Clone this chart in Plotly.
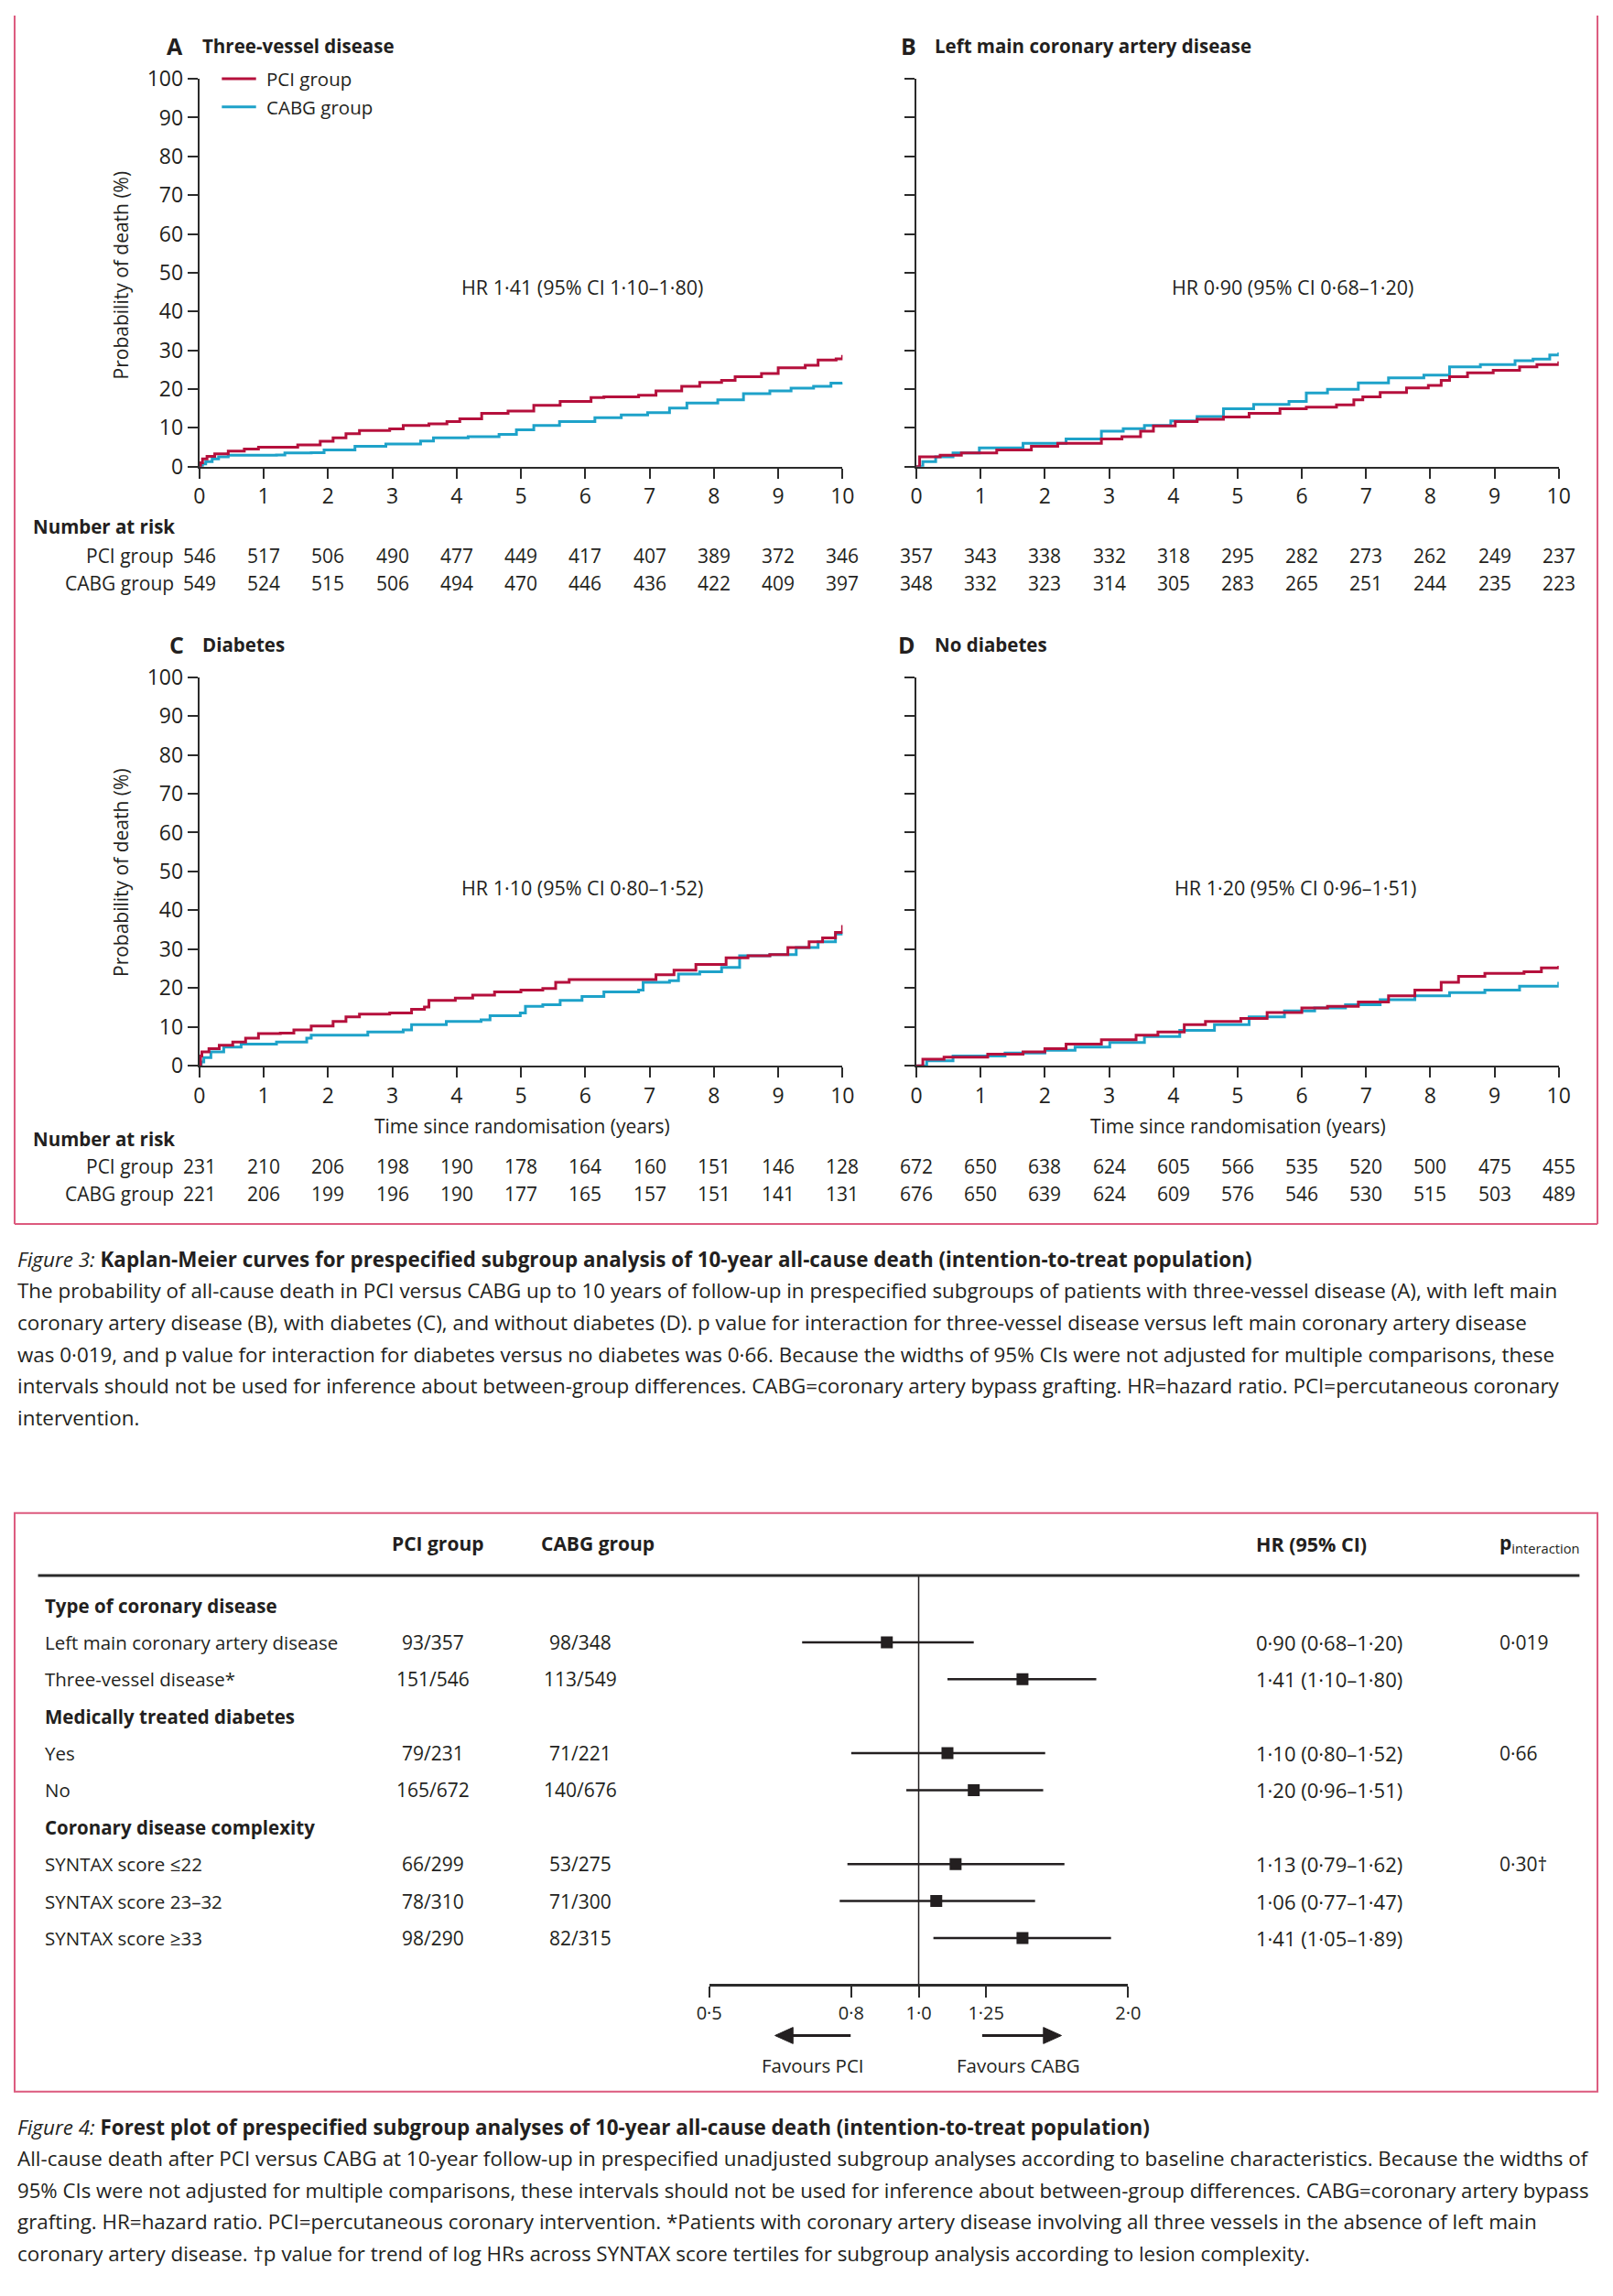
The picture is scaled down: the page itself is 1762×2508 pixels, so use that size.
import math
import plotly.graph_objects as go

W, H = 1762, 2508
def X(px): return px / W
def Y(py): return 1 - py / H

TEXT = '#231f20'
AXIS = '#2b2b2b'
PCI_C = '#b5103c'
CABG_C = '#1ea2c9'
BORDER = '#dc5a7e'
FONT = 'Open Sans'

# ---------------- Kaplan-Meier data ----------------
years = [0, 1, 2, 3, 4, 5, 6, 7, 8, 9, 10]

A_pci_t = [0, 0.02, 0.05, 0.12, 0.24, 0.45, 0.7, 0.92, 1.53, 1.88, 2.08, 2.28, 2.49, 2.96, 3.17, 3.57, 3.85, 4.05, 4.39, 4.8, 5.2, 5.61, 6.09, 6.29, 6.83, 7.1, 7.5, 7.78, 8.12, 8.33, 8.74, 9.0, 9.42, 9.62, 9.9, 10.0]
A_pci_v = [0, 1.0, 2.0, 2.6, 3.3, 4.0, 4.5, 5.0, 5.6, 6.5, 7.4, 8.5, 9.3, 9.7, 10.6, 11.0, 11.6, 12.3, 13.7, 14.3, 15.8, 16.8, 17.8, 18.0, 18.4, 19.5, 20.7, 21.7, 22.2, 23.2, 24.0, 25.5, 26.1, 27.5, 27.8, 28.8]
A_cabg_t = [0, 0.05, 0.1, 0.2, 0.3, 0.45, 1.2, 1.33, 1.74, 1.94, 2.42, 2.9, 3.44, 3.64, 4.18, 4.66, 4.93, 5.2, 5.6, 6.15, 6.56, 6.97, 7.31, 7.58, 8.06, 8.46, 8.87, 9.2, 9.55, 9.82, 10.0]
A_cabg_v = [0, 0.7, 1.3, 2.0, 2.5, 2.9, 3.0, 3.5, 3.6, 4.3, 5.2, 5.8, 6.6, 7.4, 7.7, 8.3, 9.5, 10.6, 11.6, 12.6, 13.3, 13.9, 15.1, 16.4, 17.2, 18.8, 19.5, 20.2, 20.7, 21.5, 21.6]

B_pci_t = [0, 0.05, 0.37, 0.7, 1.25, 1.79, 2.2, 2.88, 3.2, 3.49, 3.69, 4.03, 4.37, 4.78, 5.18, 5.66, 6.07, 6.54, 6.81, 6.95, 7.22, 7.63, 7.97, 8.17, 8.3, 8.58, 8.98, 9.39, 9.66, 10.0]
B_pci_v = [0, 2.5, 2.9, 3.5, 4.3, 5.2, 6.0, 7.1, 7.7, 9.1, 10.5, 11.6, 12.2, 12.8, 13.7, 14.9, 15.3, 15.9, 17.2, 18.0, 19.1, 20.3, 20.9, 22.2, 23.2, 24.2, 24.8, 25.7, 26.3, 27.1]
B_cabg_t = [0, 0.1, 0.3, 0.57, 0.98, 1.66, 2.33, 2.88, 3.22, 3.55, 3.96, 4.37, 4.78, 5.25, 5.8, 6.07, 6.4, 6.88, 7.35, 7.9, 8.3, 8.78, 9.32, 9.6, 9.86, 10.0]
B_cabg_v = [0, 1.3, 2.5, 3.5, 4.8, 6.0, 7.1, 9.1, 9.8, 10.6, 11.8, 12.9, 14.9, 16.0, 16.8, 19.0, 19.9, 21.6, 22.9, 23.6, 25.7, 26.3, 27.3, 27.7, 28.8, 29.4]

C_pci_t = [0, 0.02, 0.04, 0.15, 0.31, 0.52, 0.72, 0.92, 1.26, 1.47, 1.74, 2.08, 2.28, 2.49, 2.96, 3.3, 3.5, 3.57, 3.98, 4.25, 4.59, 5.0, 5.34, 5.54, 5.75, 6.83, 7.1, 7.38, 7.72, 8.19, 8.53, 8.87, 9.15, 9.48, 9.69, 9.89, 10.0]
C_pci_v = [0, 2.5, 3.6, 4.4, 5.3, 6.1, 7.1, 8.3, 8.4, 9.2, 10.2, 11.4, 12.6, 13.3, 13.6, 14.5, 15.1, 16.8, 17.4, 18.2, 19.0, 19.5, 19.9, 21.5, 22.2, 22.2, 23.4, 24.6, 26.1, 27.8, 28.3, 28.6, 30.4, 31.9, 32.9, 34.3, 36.2]
C_cabg_t = [0, 0.03, 0.07, 0.18, 0.38, 0.65, 1.2, 1.67, 1.74, 2.62, 3.17, 3.3, 3.84, 4.38, 4.52, 4.99, 5.07, 5.34, 5.61, 5.95, 6.29, 6.83, 6.9, 7.31, 7.45, 7.78, 8.12, 8.4, 8.87, 9.28, 9.62, 9.89, 10.0]
C_cabg_v = [0, 1.0, 2.1, 3.6, 4.8, 5.6, 6.1, 7.1, 7.9, 8.7, 9.2, 10.6, 11.4, 11.8, 12.9, 13.6, 15.3, 15.7, 16.8, 17.8, 19.0, 19.5, 21.5, 21.9, 23.6, 24.2, 25.3, 28.3, 28.6, 30.4, 31.9, 33.9, 34.5]

D_pci_t = [0, 0.1, 0.43, 1.11, 1.66, 2.0, 2.33, 2.88, 3.42, 3.76, 4.17, 4.5, 5.05, 5.46, 6.0, 6.4, 6.88, 7.35, 7.76, 8.17, 8.44, 8.85, 9.46, 9.73, 10.0]
D_pci_v = [0, 1.7, 2.2, 3.0, 3.6, 4.4, 5.6, 6.7, 7.9, 8.7, 10.6, 11.4, 12.2, 13.7, 14.9, 15.3, 16.4, 18.0, 19.5, 21.5, 23.0, 23.8, 24.2, 25.2, 25.7]
D_cabg_t = [0, 0.16, 0.57, 1.38, 2.0, 2.47, 3.01, 3.55, 4.1, 4.64, 5.18, 5.73, 6.2, 6.68, 7.22, 7.76, 8.3, 8.85, 9.39, 10.0]
D_cabg_v = [0, 1.3, 2.5, 3.3, 4.0, 4.8, 6.0, 7.5, 9.1, 10.6, 12.6, 14.1, 14.9, 15.7, 17.0, 18.0, 18.8, 19.5, 20.5, 21.6]

# Number at risk
A_pci_risk = [546, 517, 506, 490, 477, 449, 417, 407, 389, 372, 346]
A_cabg_risk = [549, 524, 515, 506, 494, 470, 446, 436, 422, 409, 397]
B_pci_risk = [357, 343, 338, 332, 318, 295, 282, 273, 262, 249, 237]
B_cabg_risk = [348, 332, 323, 314, 305, 283, 265, 251, 244, 235, 223]
C_pci_risk = [231, 210, 206, 198, 190, 178, 164, 160, 151, 146, 128]
C_cabg_risk = [221, 206, 199, 196, 190, 177, 165, 157, 151, 141, 131]
D_pci_risk = [672, 650, 638, 624, 605, 566, 535, 520, 500, 475, 455]
D_cabg_risk = [676, 650, 639, 624, 609, 576, 546, 530, 515, 503, 489]

panel_letters = ['A', 'B', 'C', 'D']
panel_titles = ['Three-vessel disease', 'Left main coronary artery disease', 'Diabetes', 'No diabetes']
panel_hr = ['HR 1·41 (95% CI 1·10–1·80)', 'HR 0·90 (95% CI 0·68–1·20)',
            'HR 1·10 (95% CI 0·80–1·52)', 'HR 1·20 (95% CI 0·96–1·51)']

# ---------------- Forest plot data ----------------
forest_labels = ['Type of coronary disease', 'Left main coronary artery disease', 'Three-vessel disease*',
                 'Medically treated diabetes', 'Yes', 'No',
                 'Coronary disease complexity', 'SYNTAX score ≤22', 'SYNTAX score 23–32', 'SYNTAX score ≥33']
forest_is_header = [True, False, False, True, False, False, True, False, False, False]
forest_pci = ['', '93/357', '151/546', '', '79/231', '165/672', '', '66/299', '78/310', '98/290']
forest_cabg = ['', '98/348', '113/549', '', '71/221', '140/676', '', '53/275', '71/300', '82/315']
forest_hr = [None, 0.90, 1.41, None, 1.10, 1.20, None, 1.13, 1.06, 1.41]
forest_lo = [None, 0.68, 1.10, None, 0.80, 0.96, None, 0.79, 0.77, 1.05]
forest_hi = [None, 1.20, 1.80, None, 1.52, 1.51, None, 1.62, 1.47, 1.89]
forest_p = ['', '0·019', '', '', '0·66', '', '', '0·30†', '', '']
forest_ticks = [0.5, 0.8, 1.0, 1.25, 2.0]
forest_ticktext = ['0·5', '0·8', '1·0', '1·25', '2·0']

caption3_title = '<i>Figure 3:</i> <b>Kaplan-Meier curves for prespecified subgroup analysis of 10-year all-cause death (intention-to-treat population)</b>'
caption3_lines = [
    'The probability of all-cause death in PCI versus CABG up to 10 years of follow-up in prespecified subgroups of patients with three-vessel disease (A), with left main',
    'coronary artery disease (B), with diabetes (C), and without diabetes (D). p value for interaction for three-vessel disease versus left main coronary artery disease',
    'was 0·019, and p value for interaction for diabetes versus no diabetes was 0·66. Because the widths of 95% CIs were not adjusted for multiple comparisons, these',
    'intervals should not be used for inference about between-group differences. CABG=coronary artery bypass grafting. HR=hazard ratio. PCI=percutaneous coronary',
    'intervention.',
]
caption4_title = '<i>Figure 4:</i> <b>Forest plot of prespecified subgroup analyses of 10-year all-cause death (intention-to-treat population)</b>'
caption4_lines = [
    'All-cause death after PCI versus CABG at 10-year follow-up in prespecified unadjusted subgroup analyses according to baseline characteristics. Because the widths of',
    '95% CIs were not adjusted for multiple comparisons, these intervals should not be used for inference about between-group differences. CABG=coronary artery bypass',
    'grafting. HR=hazard ratio. PCI=percutaneous coronary intervention. *Patients with coronary artery disease involving all three vessels in the absence of left main',
    'coronary artery disease. †p value for trend of log HRs across SYNTAX score tertiles for subgroup analysis according to lesion complexity.',
]

# ---------------- Build figure ----------------
fig = go.Figure()
annotations = []
shapes = []

def ann(text, x, y, size=20, xanchor='left', yanchor='middle', xref='paper', yref='paper', color=TEXT, family=FONT, **kw):
    annotations.append(dict(text=text, x=x, y=y, xref=xref, yref=yref, xanchor=xanchor, yanchor=yanchor,
                            showarrow=False, font=dict(size=size, color=color, family=family), **kw))

curves = [
    (A_pci_t, A_pci_v, A_cabg_t, A_cabg_v),
    (B_pci_t, B_pci_v, B_cabg_t, B_cabg_v),
    (C_pci_t, C_pci_v, C_cabg_t, C_cabg_v),
    (D_pci_t, D_pci_v, D_cabg_t, D_cabg_v),
]
risks = [(A_pci_risk, A_cabg_risk), (B_pci_risk, B_cabg_risk), (C_pci_risk, C_cabg_risk), (D_pci_risk, D_cabg_risk)]

# panel pixel geometry: (x0px, x10px, y0px, y100px)
geo = [(207, 921, 499, 70), (1003, 1716, 499, 70), (207, 921, 1162, 732), (1003, 1716, 1162, 732)]
title_y = [33, 33, 696, 696]
letter_x = [169, 984, 172, 981]
title_x = [208, 1021, 208, 1021]
hr_pos = [(632, 300), (1421, 300), (632, 965), (1424, 965)]
risk_rows = [(598, 628), (598, 628), (1273, 1304), (1273, 1304)]

layout_axes = {}
for i in range(4):
    n = i + 1
    xs = '' if n == 1 else str(n)
    x0p, x1p, y0p, y1p = geo[i]
    pt, pv, ct, cv = curves[i]
    fig.add_trace(go.Scatter(x=ct, y=cv, mode='lines', line=dict(color=CABG_C, width=3, shape='hv'),
                             xaxis='x' + xs, yaxis='y' + xs, showlegend=False, hoverinfo='skip'))
    fig.add_trace(go.Scatter(x=pt, y=pv, mode='lines', line=dict(color=PCI_C, width=3, shape='hv'),
                             xaxis='x' + xs, yaxis='y' + xs, showlegend=False, hoverinfo='skip'))
    layout_axes['xaxis' + xs] = dict(domain=[X(x0p), X(x1p)], range=[0, 10], anchor='y' + xs,
                                     tickvals=years, ticks='outside', ticklen=11, tickwidth=2, tickcolor=AXIS,
                                     showline=True, linecolor=AXIS, linewidth=2, showgrid=False, zeroline=False,
                                     tickfont=dict(size=23, color=TEXT, family=FONT))
    layout_axes['yaxis' + xs] = dict(domain=[Y(y0p), Y(y1p)], range=[0, 100], anchor='x' + xs,
                                     tickvals=list(range(0, 101, 10)), ticks='outside', ticklen=11, tickwidth=2,
                                     tickcolor=AXIS, showline=True, linecolor=AXIS, linewidth=2, showgrid=False,
                                     zeroline=False, showticklabels=(i % 2 == 0),
                                     tickfont=dict(size=23, color=TEXT, family=FONT))
    # titles
    ann('<b>' + panel_letters[i] + '</b>', X(letter_x[i]), Y(title_y[i]), size=25)
    ann('<b>' + panel_titles[i] + '</b>', X(title_x[i]), Y(title_y[i]), size=20.5)
    ann(panel_hr[i], X(hr_pos[i][0]), Y(hr_pos[i][1]), size=21.5, xanchor='center')
    # number at risk
    pr, cr = risks[i]
    for t, v in zip(years, pr):
        ann(str(v), t, Y(risk_rows[i][0]), size=21, xanchor='center', xref='x' + xs)
    for t, v in zip(years, cr):
        ann(str(v), t, Y(risk_rows[i][1]), size=21, xanchor='center', xref='x' + xs)

# y axis titles
ann('Probability of death (%)', X(120), Y(287), size=21, xanchor='center', textangle=-90)
ann('Probability of death (%)', X(120), Y(948), size=21, xanchor='center', textangle=-90)
# x axis titles (C, D)
ann('Time since randomisation (years)', X(565), Y(1229), size=21, xanchor='center')
ann('Time since randomisation (years)', X(1360), Y(1229), size=21, xanchor='center')
# number at risk labels
for ny, (r1, r2) in [(565, (598, 628)), (1243, (1273, 1304))]:
    ann('<b>Number at risk</b>', X(20), Y(ny), size=20.5)
    ann('PCI group', X(181), Y(r1), size=21, xanchor='right')
    ann('CABG group', X(181), Y(r2), size=21, xanchor='right')

# legend (panel A)
shapes.append(dict(type='line', xref='paper', yref='paper', x0=X(232), x1=X(270), y0=Y(70), y1=Y(70),
                   line=dict(color=PCI_C, width=3)))
shapes.append(dict(type='line', xref='paper', yref='paper', x0=X(232), x1=X(270), y0=Y(101), y1=Y(101),
                   line=dict(color=CABG_C, width=3)))
ann('PCI group', X(279), Y(70), size=20.5)
ann('CABG group', X(279), Y(101), size=20.5)

# ---------------- Forest plot ----------------
row_top_px, row_step_px = 1759, 40.9
fy_top_px, fy_bot_px = 1727, 2178
y5_range = [(fy_bot_px - row_top_px) / row_step_px, (fy_top_px - row_top_px) / row_step_px]
rows_idx = list(range(len(forest_labels)))

layout_axes['xaxis5'] = dict(type='log', domain=[X(773), X(1238)],
                             range=[math.log10(forest_ticks[0]), math.log10(forest_ticks[-1])], anchor='y5',
                             tickvals=forest_ticks, ticktext=forest_ticktext, ticks='outside', ticklen=12,
                             tickwidth=2, tickcolor=AXIS, showline=True, linecolor=AXIS, linewidth=3,
                             showgrid=False, zeroline=False, tickfont=dict(size=20, color=TEXT, family=FONT))
layout_axes['yaxis5'] = dict(domain=[Y(fy_bot_px), Y(fy_top_px)], range=y5_range, anchor='x5', visible=False)

# null line at HR = 1
fig.add_trace(go.Scatter(x=[1, 1], y=y5_range, mode='lines', line=dict(color=TEXT, width=1.5),
                         xaxis='x5', yaxis='y5', showlegend=False, hoverinfo='skip'))
fx, fy, ep, em = [], [], [], []
for i in rows_idx:
    if forest_hr[i] is None:
        continue
    fx.append(forest_hr[i]); fy.append(i)
    ep.append(forest_hi[i] - forest_hr[i]); em.append(forest_hr[i] - forest_lo[i])
fig.add_trace(go.Scatter(x=fx, y=fy, mode='markers', xaxis='x5', yaxis='y5', showlegend=False, hoverinfo='skip',
                         marker=dict(symbol='square', size=13, color=TEXT),
                         error_x=dict(type='data', symmetric=False, array=ep, arrayminus=em,
                                      color=TEXT, thickness=2.5, width=0)))

# forest header
ann('<b>PCI group</b>', X(472), Y(1691), size=21, xanchor='center')
ann('<b>CABG group</b>', X(584), Y(1691), size=21)
ann('<b>HR (95% CI)</b>', X(1378), Y(1691), size=21.5)
ann('<b>p</b><sub>interaction</sub>', X(1648), Y(1691), size=21)
shapes.append(dict(type='line', xref='paper', yref='paper', x0=X(28), x1=X(1739), y0=Y(1726), y1=Y(1726),
                   line=dict(color=AXIS, width=3)))

for i in rows_idx:
    lab = forest_labels[i]
    ann('<b>' + lab + '</b>' if forest_is_header[i] else lab, X(34), i, size=20.5, yref='y5')
    if forest_pci[i]:
        ann(forest_pci[i], X(466), i, size=21, xanchor='center', yref='y5')
    if forest_cabg[i]:
        ann(forest_cabg[i], X(630), i, size=21, xanchor='center', yref='y5')
    if forest_hr[i] is not None:
        txt = f"{forest_hr[i]:.2f} ({forest_lo[i]:.2f}–{forest_hi[i]:.2f})".replace('.', '·')
        ann(txt, X(1378), i, size=22, yref='y5')
    if forest_p[i]:
        ann(forest_p[i], X(1648), i, size=21, yref='y5')

# favours arrows (drawn as shapes)
ay = 2235
shapes.append(dict(type='line', xref='paper', yref='paper', x0=X(862), x1=X(930), y0=Y(ay), y1=Y(ay),
                   line=dict(color=TEXT, width=3)))
shapes.append(dict(type='path', xref='paper', yref='paper', fillcolor=TEXT, line=dict(color=TEXT, width=1),
                   path=f"M {X(846)} {Y(ay)} L {X(866)} {Y(ay - 9)} L {X(866)} {Y(ay + 9)} Z"))
shapes.append(dict(type='line', xref='paper', yref='paper', x0=X(1076), x1=X(1148), y0=Y(ay), y1=Y(ay),
                   line=dict(color=TEXT, width=3)))
shapes.append(dict(type='path', xref='paper', yref='paper', fillcolor=TEXT, line=dict(color=TEXT, width=1),
                   path=f"M {X(1164)} {Y(ay)} L {X(1144)} {Y(ay - 9)} L {X(1144)} {Y(ay + 9)} Z"))
ann('Favours PCI', X(888), Y(2268), size=20.5, xanchor='center')
ann('Favours CABG', X(1116), Y(2268), size=20.5, xanchor='center')

# ---------------- captions ----------------
ann(caption3_title, X(3), Y(1376), size=22.4)
for k, line in enumerate(caption3_lines):
    ann(line, X(3), Y(1411 + 35 * k), size=22.4)
ann(caption4_title, X(3), Y(2336), size=22.4)
for k, line in enumerate(caption4_lines):
    ann(line, X(3), Y(2371 + 35 * k), size=22.2 if k == 1 else 22.4)

# ---------------- borders ----------------
BL, BR = 2, 1759
for (x0, y0, x1, y1) in [(BL, 0, BL, 1337), (BR, 0, BR, 1337), (BL, 1337, BR, 1337)]:
    shapes.append(dict(type='line', xref='paper', yref='paper', x0=X(x0), x1=X(x1), y0=Y(y0), y1=Y(y1),
                       line=dict(color=BORDER, width=2)))
shapes.append(dict(type='rect', xref='paper', yref='paper', x0=X(BL), x1=X(BR), y0=Y(2297), y1=Y(1657),
                   line=dict(color=BORDER, width=2)))

fig.update_layout(width=W, height=H, margin=dict(l=0, r=0, t=0, b=0, pad=0), autosize=False,
                  paper_bgcolor='white', plot_bgcolor='white', showlegend=False,
                  font=dict(family=FONT, color=TEXT), annotations=annotations, shapes=shapes, **layout_axes)

post = ("var s=document.createElement('style');"
        "s.innerHTML='html,body{margin:0!important;padding:0!important;overflow:hidden;}';"
        "document.head.appendChild(s);window.scrollTo(0,0);")
fig.write_html("out.html", config={'displayModeBar': False, 'responsive': False}, post_script=post)
